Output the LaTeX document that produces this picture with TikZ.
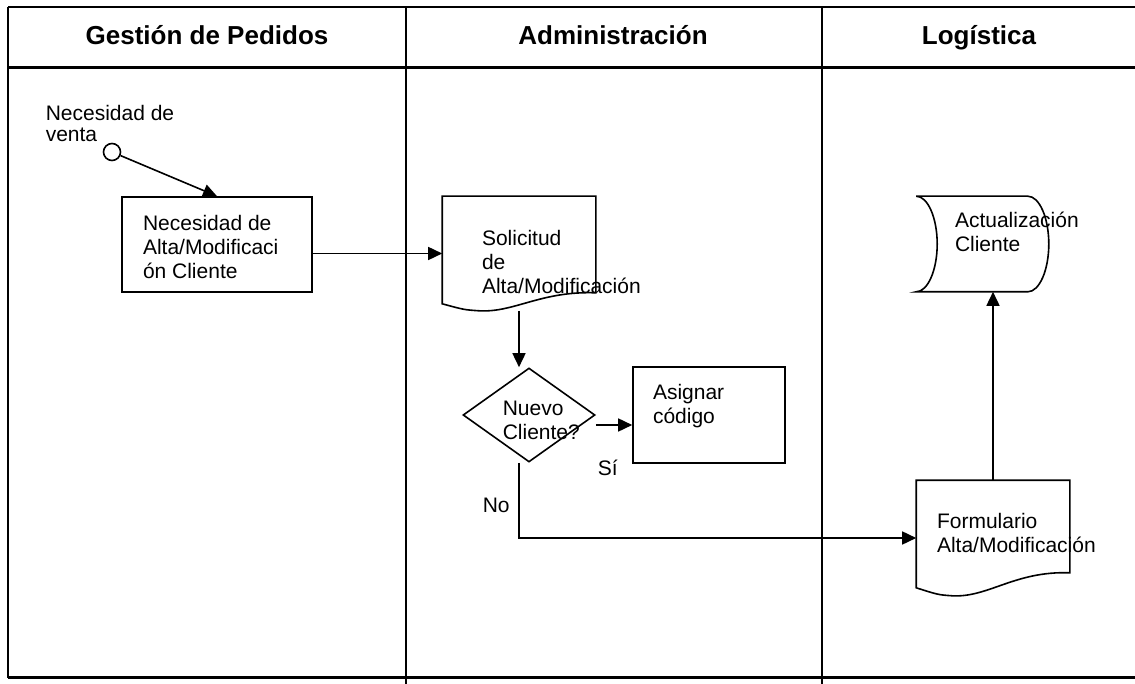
\documentclass[tikz,border=0pt]{standalone}
\usepackage{fontspec}
\setmainfont{Liberation Sans}
\usepackage{tikz}
\usetikzlibrary{shapes,shapes.geometric,arrows,positioning,calc,arrows.meta}

\begin{document}
\begin{tikzpicture}[x=1pt,y=-1pt,line width=1.6pt,
   every node/.style={inner sep=0pt,font=\fontsize{21}{24}\selectfont},
   lane/.style={anchor=base,font=\bfseries\fontsize{26}{30}\selectfont},
   txt/.style={anchor=north west,align=left},
   procbox/.style={draw,rectangle},
   arr/.style={-{Triangle[length=14pt,width=13pt]}}]

   \useasboundingbox (0,0) rectangle (1135,684);

   % Lanes
   \draw (8,7) -- (1135,7);
   \draw[line width=3pt] (8,68) -- (1135,68);
   \draw[line width=3pt] (8,677) -- (1135,677);
   \draw (8,7) -- (8,678);
   \draw (406,7) -- (406,684);
   \draw (822,7) -- (822,684);
   \node[lane] (gestion) at (207,45) {Gestión de Pedidos};
   \node[lane] (admin) at (613,45) {Administración};
   \node[lane] (logis) at (979,45) {Logística};

   % Gestion de Pedidos
   \node[circle,draw,minimum size=17] (start) at (112,152) {};
   \node[txt,font=\fontsize{21}{21}\selectfont] (start-t) at (45,104) {Necesidad de\\venta};
   \node[procbox,minimum width=190,minimum height=95] (alta) at (217,244.5) {};
   \node[txt] (alta-t) at ([shift={(21,18)}]alta.north west) {Necesidad de\\Alta/Modificaci\\ón Cliente};

   % Administracion
   \node[minimum width=152,minimum height=113] (sol) at (519,253.5) {};
   \draw (sol.north west) -- (sol.north east) -- ($(sol.south east)+(0,-18)$)
      .. controls ($(sol.south east)+(-55,-20)$) and ($(sol.south west)+(72,2)$) .. ($(sol.south west)+(37,0)$)
      .. controls ($(sol.south west)+(22,-1)$) .. ($(sol.south west)+(0,-7)$) -- cycle;
   \node[txt] (sol-t) at ([shift={(39,33)}]sol.north west) {Solicitud\\de\\Alta/Modificación};

   \node[diamond,draw,minimum width=132,minimum height=94] (nuevo) at (529,415) {};
   \node[txt] (nuevo-t) at (502,400) {Nuevo\\Cliente?};
   \node[procbox,minimum width=152,minimum height=96] (asig) at (709,415) {};
   \node[txt] (asig-t) at ([shift={(20,17)}]asig.north west) {Asignar\\código};
   \node[txt] (si) at (597,459) {Sí};
   \node[txt] (no) at (482,497) {No};

   % Logistica
   \node[minimum width=131,minimum height=94] (act) at (982.5,244) {};
   \draw (act.north west) -- ($(act.north east)+(-21,0)$)
      .. controls ($(act.north east)+(-9.4,0)$) and ($(act.east)+(0,-26)$) .. (act.east)
      .. controls ($(act.east)+(0,26)$) and ($(act.south east)+(-9.4,0)$) .. ($(act.south east)+(-21,0)$)
      -- (act.south west)
      .. controls ($(act.south west)+(11.6,0)$) and ($(act.west)+(21,26)$) .. ($(act.west)+(21,0)$)
      .. controls ($(act.west)+(21,-26)$) and ($(act.north west)+(11.6,0)$) .. (act.north west);
   \node[txt] (act-t) at ([shift={(38,15)}]act.north west) {Actualización\\Cliente};

   \node[minimum width=152,minimum height=114] (form) at (993,538) {};
   \draw (form.north west) -- (form.north east) -- ($(form.south east)+(0,-23)$)
      .. controls ($(form.south east)+(-55,-25)$) and ($(form.south west)+(72,2)$) .. ($(form.south west)+(36,0)$)
      .. controls ($(form.south west)+(22,-1)$) .. ($(form.south west)+(0,-8)$) -- cycle;
   \node[txt] (form-t) at ([shift={(20,32)}]form.north west) {Formulario\\Alta/Modificación};

   % Connectors
   \draw[arr] (start) -- (alta.north);
   \draw[arr] (alta.east |- sol.west) -- (sol.west);
   \draw[arr] (sol.south) -- (sol.south |- nuevo.north);
   \draw[arr] ([yshift=-10pt]nuevo.east) -- ([yshift=-10pt]asig.west);
   \draw[arr] (nuevo.south -| sol.south) |- (form.west);
   \draw[arr] (form.north) -- (form.north |- act.south);

\end{tikzpicture}
\end{document}
